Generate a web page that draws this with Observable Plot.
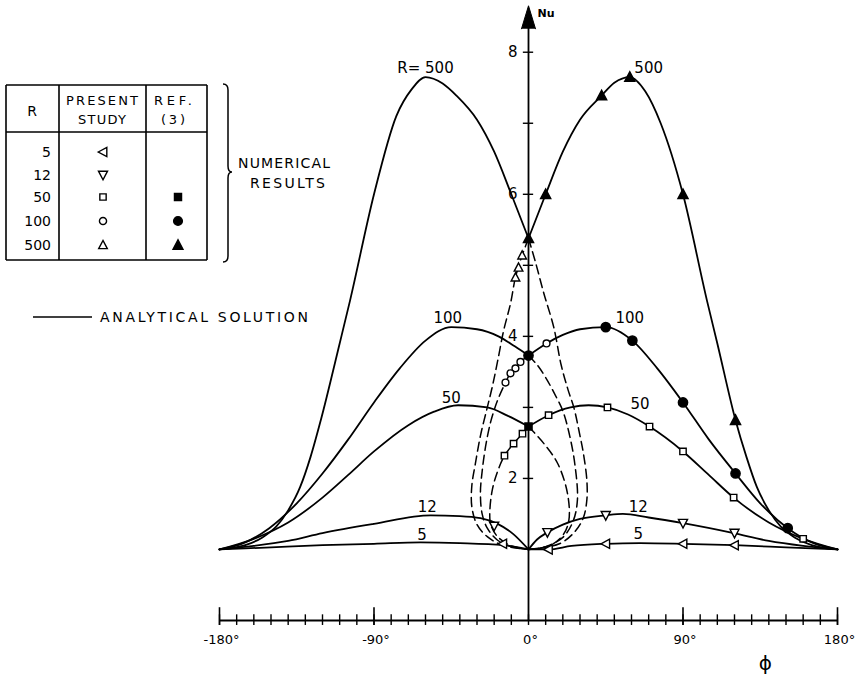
<!DOCTYPE html>
<html><head><meta charset="utf-8">
<script src="https://cdn.jsdelivr.net/npm/d3@7"></script>
<script src="https://cdn.jsdelivr.net/npm/@observablehq/plot@0.6"></script>
<style>
html,body{margin:0;padding:0;background:#fff;}
#wrap{position:relative;width:863px;height:679px;overflow:hidden;}
#wrap svg{display:block;}
#legend{position:absolute;left:0;top:0;pointer-events:none;}
</style></head><body><div id="wrap"></div>
<script>
// ---------- data (phi in degrees, Nu) ----------
const Rvalues = [5, 12, 50, 100, 500];

// analytical solution, left (phi<=0) and right (phi>=0) branches
const nu500Left  = [[-180,1.0],[-165,1.06],[-155,1.17],[-147,1.32],[-140,1.55],[-133,1.88],[-127,2.3],[-121,2.82],[-110,3.9],[-104,4.5],[-90,6.0],[-77,7.1],[-68,7.48],[-60,7.65],[-50,7.56],[-42,7.39],[-30,7.05],[-20,6.6],[-10,6.0],[0,5.38]];
const nu500Right = [[0,5.38],[10,6.0],[20,6.6],[30,7.05],[42.6,7.39],[50,7.57],[59,7.65],[68,7.45],[77,7.0],[90,6.0],[104,4.5],[110,3.9],[120.6,2.82],[127,2.3],[133,1.88],[140,1.55],[147,1.32],[155,1.17],[165,1.06],[180,1.0]];
const nu100Left  = [[-180,1.0],[-165,1.1],[-151,1.3],[-135,1.65],[-120,2.07],[-105,2.55],[-90,3.07],[-75,3.55],[-60,3.94],[-45,4.13],[-30,4.1],[-17.5,4.0],[-8,3.86],[0,3.73]];
const nu100Right = [[0,3.73],[10.5,3.9],[20,4.02],[30,4.1],[45,4.13],[60.5,3.94],[75,3.55],[90,3.07],[105,2.55],[120.6,2.07],[135,1.65],[151,1.30],[165,1.1],[180,1.0]];
const nu50Left   = [[-180,1.0],[-160,1.15],[-140,1.38],[-120,1.73],[-105,2.05],[-90,2.38],[-70,2.75],[-55,2.94],[-41,3.03],[-24,3.0],[-12,2.88],[0,2.73]];
const nu50Right  = [[0,2.73],[11.7,2.89],[24.5,3.0],[35,3.03],[46,3.0],[58,2.9],[70.5,2.73],[90,2.38],[105,2.05],[119.5,1.73],[140,1.38],[160,1.15],[180,1.0]];
const nu12Left   = [[-180,1.0],[-160,1.05],[-140,1.12],[-120,1.23],[-90,1.36],[-57,1.48],[-40,1.47],[-28,1.44],[-18,1.36],[-9,1.22],[0,1.0]];
const nu12Right  = [[0,1.0],[5,1.14],[11,1.24],[20,1.35],[30,1.43],[45,1.48],[55,1.5],[70,1.45],[90,1.37],[119.5,1.23],[140,1.12],[160,1.05],[180,1.0]];
const nu5Left    = [[-180,1.0],[-150,1.03],[-120,1.06],[-90,1.08],[-63,1.1],[-40,1.09],[-14.5,1.06],[0,1.0]];
const nu5Right   = [[0,1.0],[11.6,1.0],[25,1.05],[45,1.08],[65,1.09],[90,1.08],[120,1.06],[150,1.03],[180,1.0]];

// dashed loops near phi = 0
const dashA_L = [[0,5.38],[-3.7,5.14],[-7.6,4.83],[-10.5,4.46],[-14.5,4.08],[-18,3.65],[-21,3.3],[-24,3.0],[-28,2.6],[-31,2.2],[-33,1.9],[-33,1.6],[-30,1.35],[-24,1.18],[-15,1.06],[0,1.0]];
const dashB_L = [[0,3.73],[-4.7,3.64],[-7.6,3.55],[-10.5,3.48],[-13.4,3.35],[-18,3.1],[-22,2.8],[-25,2.45],[-27,2.1],[-28,1.8],[-27,1.5],[-24,1.3],[-18,1.13],[-10,1.04],[0,1.0]];
const dashC_L = [[0,2.73],[-3.5,2.63],[-8.7,2.49],[-14,2.32],[-18,2.1],[-21,1.85],[-22.5,1.55],[-22,1.35],[-18,1.18],[-10,1.05],[0,1.0]];
const dashA_R = [[0,5.38],[4,5.05],[9,4.6],[14.7,4.13],[19,3.6],[23,3.25],[26.4,3.0],[30,2.6],[32,2.35],[34,1.97],[34,1.7],[32,1.45],[27,1.25],[18,1.08],[0,1.0]];
const dashB_R = [[0,3.73],[5,3.6],[10,3.42],[15,3.2],[20,2.95],[24,2.6],[27,2.2],[28.5,1.7],[26,1.4],[20,1.17],[10,1.04],[0,1.0]];
const dashC_R = [[0,2.73],[9,2.49],[17,2.21],[22.7,1.79],[23.5,1.41],[20,1.2],[12,1.05],[0,1.0]];

// numerical results, present study (open symbols)
const present5   = [[-15,1.08],[11.6,1.0],[45,1.08],[90,1.08],[120,1.06]];
const present12  = [[-20,1.33],[11,1.24],[45,1.48],[90,1.37],[120,1.23]];
const present50  = [[-3.5,2.63],[-8.7,2.49],[-14,2.32],[11.7,2.89],[46,3.0],[70.5,2.73],[90,2.38],[119.5,1.73],[160,1.15]];
const present100 = [[-4.7,3.64],[-7.6,3.55],[-10.5,3.48],[-13.4,3.35],[10.5,3.9]];
const present500 = [[-3.7,5.14],[-5.8,4.97],[-7.6,4.83]];
// numerical results, ref. (3) (filled symbols)
const ref50  = [[0,2.73]];
const ref100 = [[0,3.73],[45,4.13],[60.5,3.94],[90,3.07],[120.6,2.07],[151,1.3]];
const ref500 = [[0,5.38],[10,6.0],[42.6,7.39],[59,7.65],[90,6.0],[120.6,2.82]];

// curve labels
const labelText = ["R= 500","500","100","100","50","50","12","12","5","5"];
const labelPhi  = [-60, 70, -47, 59, -45, 65, -59, 64, -62, 64];
const labelNu   = [7.78, 7.77, 4.26, 4.26, 3.13, 3.04, 1.59, 1.59, 1.2, 1.22];

// axes
const xMinorTicks = [-180,-170,-160,-150,-140,-130,-120,-110,-100,-90,-80,-70,-60,-50,-40,-30,-20,-10,0,10,20,30,40,50,60,70,80,90,100,110,120,130,140,150,160,170,180];
const xMajorTicks = [-180,-90,90,180];
const xTickLabels = ["-180°","-90°","0°","90°","180°"];
const xTickValues = [-180,-90,0,90,180];
const yTicks = [2,3,4,5,6,7,8];
const yTickLabels = [2,4,6,8];

// ---------- build ----------
const toRows = (arr, key) => arr.map(([phi, nu]) => ({phi, nu, key}));
const solid = [
  ...toRows(nu500Left,"500L"),...toRows(nu500Right,"500R"),
  ...toRows(nu100Left,"100L"),...toRows(nu100Right,"100R"),
  ...toRows(nu50Left,"50L"),...toRows(nu50Right,"50R"),
  ...toRows(nu12Left,"12L"),...toRows(nu12Right,"12R"),
  ...toRows(nu5Left,"5L"),...toRows(nu5Right,"5R")
];
const dashed = [
  ...toRows(dashA_L,"AL"),...toRows(dashB_L,"BL"),...toRows(dashC_L,"CL"),
  ...toRows(dashA_R,"AR"),...toRows(dashB_R,"BR"),...toRows(dashC_R,"CR")
];
const labels = labelText.map((t,i)=>({text:t, phi:labelPhi[i], nu:labelNu[i]}));

const triLeft = {draw(ctx, size){ const r = Math.sqrt(size/2.2); ctx.moveTo(-r,0); ctx.lineTo(r*0.8,-r*0.95); ctx.lineTo(r*0.8,r*0.95); ctx.closePath(); }};
const triDown = {draw(ctx, size){ const r = Math.sqrt(size/2.2); ctx.moveTo(0,r); ctx.lineTo(-r*0.95,-r*0.8); ctx.lineTo(r*0.95,-r*0.8); ctx.closePath(); }};
const triUp   = {draw(ctx, size){ const r = Math.sqrt(size/2.2); ctx.moveTo(0,-r); ctx.lineTo(-r*0.95,r*0.8); ctx.lineTo(r*0.95,r*0.8); ctx.closePath(); }};

const pt = arr => arr.map(([phi, nu]) => ({phi, nu}));
const F = "DejaVu Sans, sans-serif";

const chart = Plot.plot({
  width: 863, height: 679,
  marginLeft: 219, marginRight: 26, marginTop: 2, marginBottom: 59,
  x: {domain: [-180, 180], axis: null},
  y: {domain: [0, 8.7], axis: null},
  style: {background: "white", fontFamily: F, color: "black"},
  marks: [
    // x axis
    Plot.ruleY([0], {x1: -180, x2: 180, stroke: "black", strokeWidth: 1.8}),
    Plot.ruleX(xMinorTicks, {x: d => d, y1: -0.07, y2: 0.08, stroke: "black", strokeWidth: 1.4}),
    Plot.ruleX(xMajorTicks, {x: d => d, y1: -0.07, y2: 0.18, stroke: "black", strokeWidth: 1.6}),
    Plot.text(xTickValues, {x: d => d, y: 0, text: (d,i) => xTickLabels[i], dy: 19, dx: 2, fontSize: 13, fill: "black"}),
    Plot.text(["ϕ"], {x: 138, y: 0, text: d => d, dy: 43, fontSize: 20, fill: "black"}),
    // y axis
    Plot.ruleX([0], {y1: 0, y2: 8.35, stroke: "black", strokeWidth: 1.8}),
    Plot.vector([0], {x: 0, y: 8.33, length: 23, r: 7, shape: "spike", anchor: "start", fill: "black", stroke: "black", strokeWidth: 1}),
    Plot.ruleY(yTicks, {y: d => d, x1: -3, x2: 3, stroke: "black", strokeWidth: 1.4}),
    Plot.text(yTickLabels, {x: 0, y: d => d, text: d => String(d), dx: -11, textAnchor: "end", fontSize: 15, fill: "black"}),
    Plot.text(["Nu"], {x: 0, y: 8.55, text: d => d, dx: 9, textAnchor: "start", fontSize: 11, fontWeight: "bold", fill: "black"}),
    // analytical solution
    Plot.line(solid, {x: "phi", y: "nu", z: "key", curve: "monotone-x", stroke: "black", strokeWidth: 1.8}),
    // dashed loops
    Plot.line(dashed, {x: "phi", y: "nu", z: "key", curve: "catmull-rom", stroke: "black", strokeWidth: 1.5, strokeDasharray: "9,5"}),
    // numerical results (present study, open)
    Plot.dot(pt(present5),   {x: "phi", y: "nu", symbol: triLeft, r: 4, stroke: "black", fill: "white", strokeWidth: 1.4}),
    Plot.dot(pt(present12),  {x: "phi", y: "nu", symbol: triDown, r: 4, stroke: "black", fill: "white", strokeWidth: 1.4}),
    Plot.dot(pt(present50),  {x: "phi", y: "nu", symbol: "square", r: 3.6, stroke: "black", fill: "white", strokeWidth: 1.4}),
    Plot.dot(pt(present100), {x: "phi", y: "nu", symbol: "circle", r: 3.4, stroke: "black", fill: "white", strokeWidth: 1.4}),
    Plot.dot(pt(present500), {x: "phi", y: "nu", symbol: triUp, r: 3.8, stroke: "black", fill: "white", strokeWidth: 1.4}),
    // numerical results, ref (3) (filled)
    Plot.dot(pt(ref50),  {x: "phi", y: "nu", symbol: "square", r: 4, fill: "black", stroke: "black"}),
    Plot.dot(pt(ref100), {x: "phi", y: "nu", symbol: "circle", r: 4.6, fill: "black", stroke: "black"}),
    Plot.dot(pt(ref500), {x: "phi", y: "nu", symbol: triUp, r: 4.4, fill: "black", stroke: "black"}),
    // curve labels
    Plot.text(labels, {x: "phi", y: "nu", text: "text", fontSize: 15, fill: "black"})
  ]
});
const wrap = document.getElementById("wrap");
wrap.appendChild(chart);

// ---------- legend (table + annotations) ----------
const leg = d3.select(wrap).append("svg").attr("id","legend").attr("width",863).attr("height",679)
  .style("font-family", F);
const ln = (x1,y1,x2,y2,w=1.6) => leg.append("line").attr("x1",x1).attr("y1",y1).attr("x2",x2).attr("y2",y2).attr("stroke","black").attr("stroke-width",w);
ln(6,85,207,85); ln(6,260,207,260); ln(6,85,6,260); ln(207,85,207,260);
ln(6,132,207,132); ln(59,85,59,260); ln(146,85,146,260);
const tx = (s,x,y,anchor,len,size=13) => { const t = leg.append("text").attr("x",x).attr("y",y).attr("text-anchor",anchor).attr("font-size",size).attr("fill","black").text(s); if(len) t.attr("textLength",len).attr("lengthAdjust","spacing"); return t; };
tx("R",32,116,"middle",null,14);
tx("PRESENT",102,105,"middle",72,13);
tx("STUDY",102,124,"middle",48,13);
tx("REF.",173,105,"middle",38,13);
tx("(3)",173,124,"middle",24,13);
const rowLabels = ["5","12","50","100","500"];
const rowY = [152,175,197,221,245];
rowLabels.forEach((s,i)=> tx(s,51,rowY[i]+5,"end",null,14));
const sym = (obj,x,y,size,filled) => leg.append("path").attr("d", d3.symbol(obj,size)()).attr("transform",`translate(${x},${y})`)
  .attr("fill", filled ? "black" : "white").attr("stroke","black").attr("stroke-width",1.4);
sym(triLeft,103,rowY[0],50,false);
sym(triDown,103,rowY[1],50,false);
sym(d3.symbolSquare,103,rowY[2],40,false);
sym(d3.symbolCircle,103,rowY[3],40,false);
sym(triUp,103,rowY[4],45,false);
sym(d3.symbolSquare,178,rowY[2],50,true);
sym(d3.symbolCircle,178,rowY[3],60,true);
sym(triUp,178,rowY[4],60,true);
// brace
leg.append("path").attr("d","M223,84 Q228,84 228,90 L228,166 Q228,172 232,172 Q228,172 228,178 L228,256 Q228,262 223,262")
  .attr("fill","none").attr("stroke","black").attr("stroke-width",1.5);
tx("NUMERICAL",238,168,"start",92,14);
tx("RESULTS",250,188,"start",75,14);
ln(33,317,92,317,1.7);
tx("ANALYTICAL  SOLUTION",100,322,"start",208,14);
</script></body></html>
